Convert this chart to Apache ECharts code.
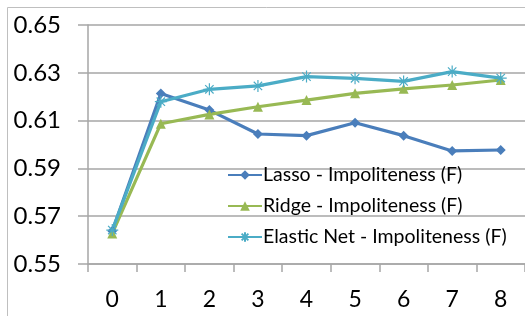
<!DOCTYPE html>
<html><head><meta charset="utf-8">
<script src="https://cdn.jsdelivr.net/npm/echarts@6/dist/echarts.min.js"></script>
<style>html,body{margin:0;padding:0;background:#fff}#c{width:525px;height:316px}</style>
</head><body><div id="c"></div>
<script>
var categories = ['0','1','2','3','4','5','6','7','8'];
var yTicks = [0.55, 0.57, 0.59, 0.61, 0.63, 0.65];
var seriesNames = ['Lasso - Impoliteness (F)', 'Ridge - Impoliteness (F)', 'Elastic Net - Impoliteness (F)'];
var lasso = [0.5638, 0.6213, 0.6144, 0.6044, 0.6037, 0.6091, 0.6037, 0.5973, 0.5977];
var ridge = [0.5628, 0.6087, 0.6126, 0.6158, 0.6186, 0.6214, 0.6233, 0.6249, 0.6270];
var elastic = [0.5642, 0.6179, 0.6231, 0.6245, 0.6284, 0.6277, 0.6264, 0.6305, 0.6278];
var colors = ['#4a7ebb', '#98b954', '#4bacc6'];

var chart = echarts.init(document.getElementById('c'), null, {renderer: 'canvas'});
var FONT = 'Lato';
var starPath = 'path://M0,-10L0,10M-10,0L10,0M-7,-7L7,7M-7,7L7,-7';
chart.setOption({
  animation: false,
  backgroundColor: '#fff',
  graphic: [{
    type: 'polyline', shape: {points: [[7.5, 316], [7.5, 7.5], [525, 7.5]]},
    style: {stroke: '#bfbfbf', lineWidth: 1, fill: null}, silent: true
  }],
  grid: {left: 88, top: 25, right: 0, bottom: 52},
  legend: {
    orient: 'vertical', left: 222, top: 160, itemGap: 11,
    itemWidth: 34, itemHeight: 12,
    textStyle: {fontFamily: FONT, fontSize: 19.5, lineHeight: 20, color: '#000', padding: [0, 0, 0, -4]},
    data: seriesNames.map(function(n){ return {name: n}; })
  },
  xAxis: {
    type: 'category', data: categories, boundaryGap: true,
    axisLine: {lineStyle: {color: '#a6a6a6', width: 1.5}},
    axisTick: {show: true, length: 8, lineStyle: {color: '#a6a6a6', width: 1.5}},
    axisLabel: {fontFamily: FONT, fontSize: 23, color: '#000', margin: 24},
    splitLine: {show: false}
  },
  yAxis: {
    type: 'value', min: 0.55, max: 0.65, interval: 0.02,
    axisLine: {show: true, lineStyle: {color: '#a6a6a6', width: 1.5}},
    axisTick: {show: true, length: 10, inside: false, lineStyle: {color: '#a6a6a6', width: 1.5}},
    axisLabel: {fontFamily: FONT, fontSize: 24, color: '#000', margin: 27,
      formatter: function(v){ return v.toFixed(2); }},
    splitLine: {show: true, lineStyle: {color: '#a6a6a6', width: 1.5}}
  },
  series: [
    {name: seriesNames[0], type: 'line', data: lasso, symbol: 'diamond', symbolSize: 10,
      lineStyle: {color: colors[0], width: 3.2}, itemStyle: {color: colors[0]}},
    {name: seriesNames[1], type: 'line', data: ridge, symbol: 'triangle', symbolSize: 10,
      lineStyle: {color: colors[1], width: 3.2}, itemStyle: {color: colors[1]}},
    {name: seriesNames[2], type: 'line', data: elastic, symbol: starPath, symbolSize: 12,
      lineStyle: {color: colors[2], width: 3.2},
      itemStyle: {color: colors[2], borderColor: colors[2], borderWidth: 1.2}}
  ]
});
</script></body></html>
